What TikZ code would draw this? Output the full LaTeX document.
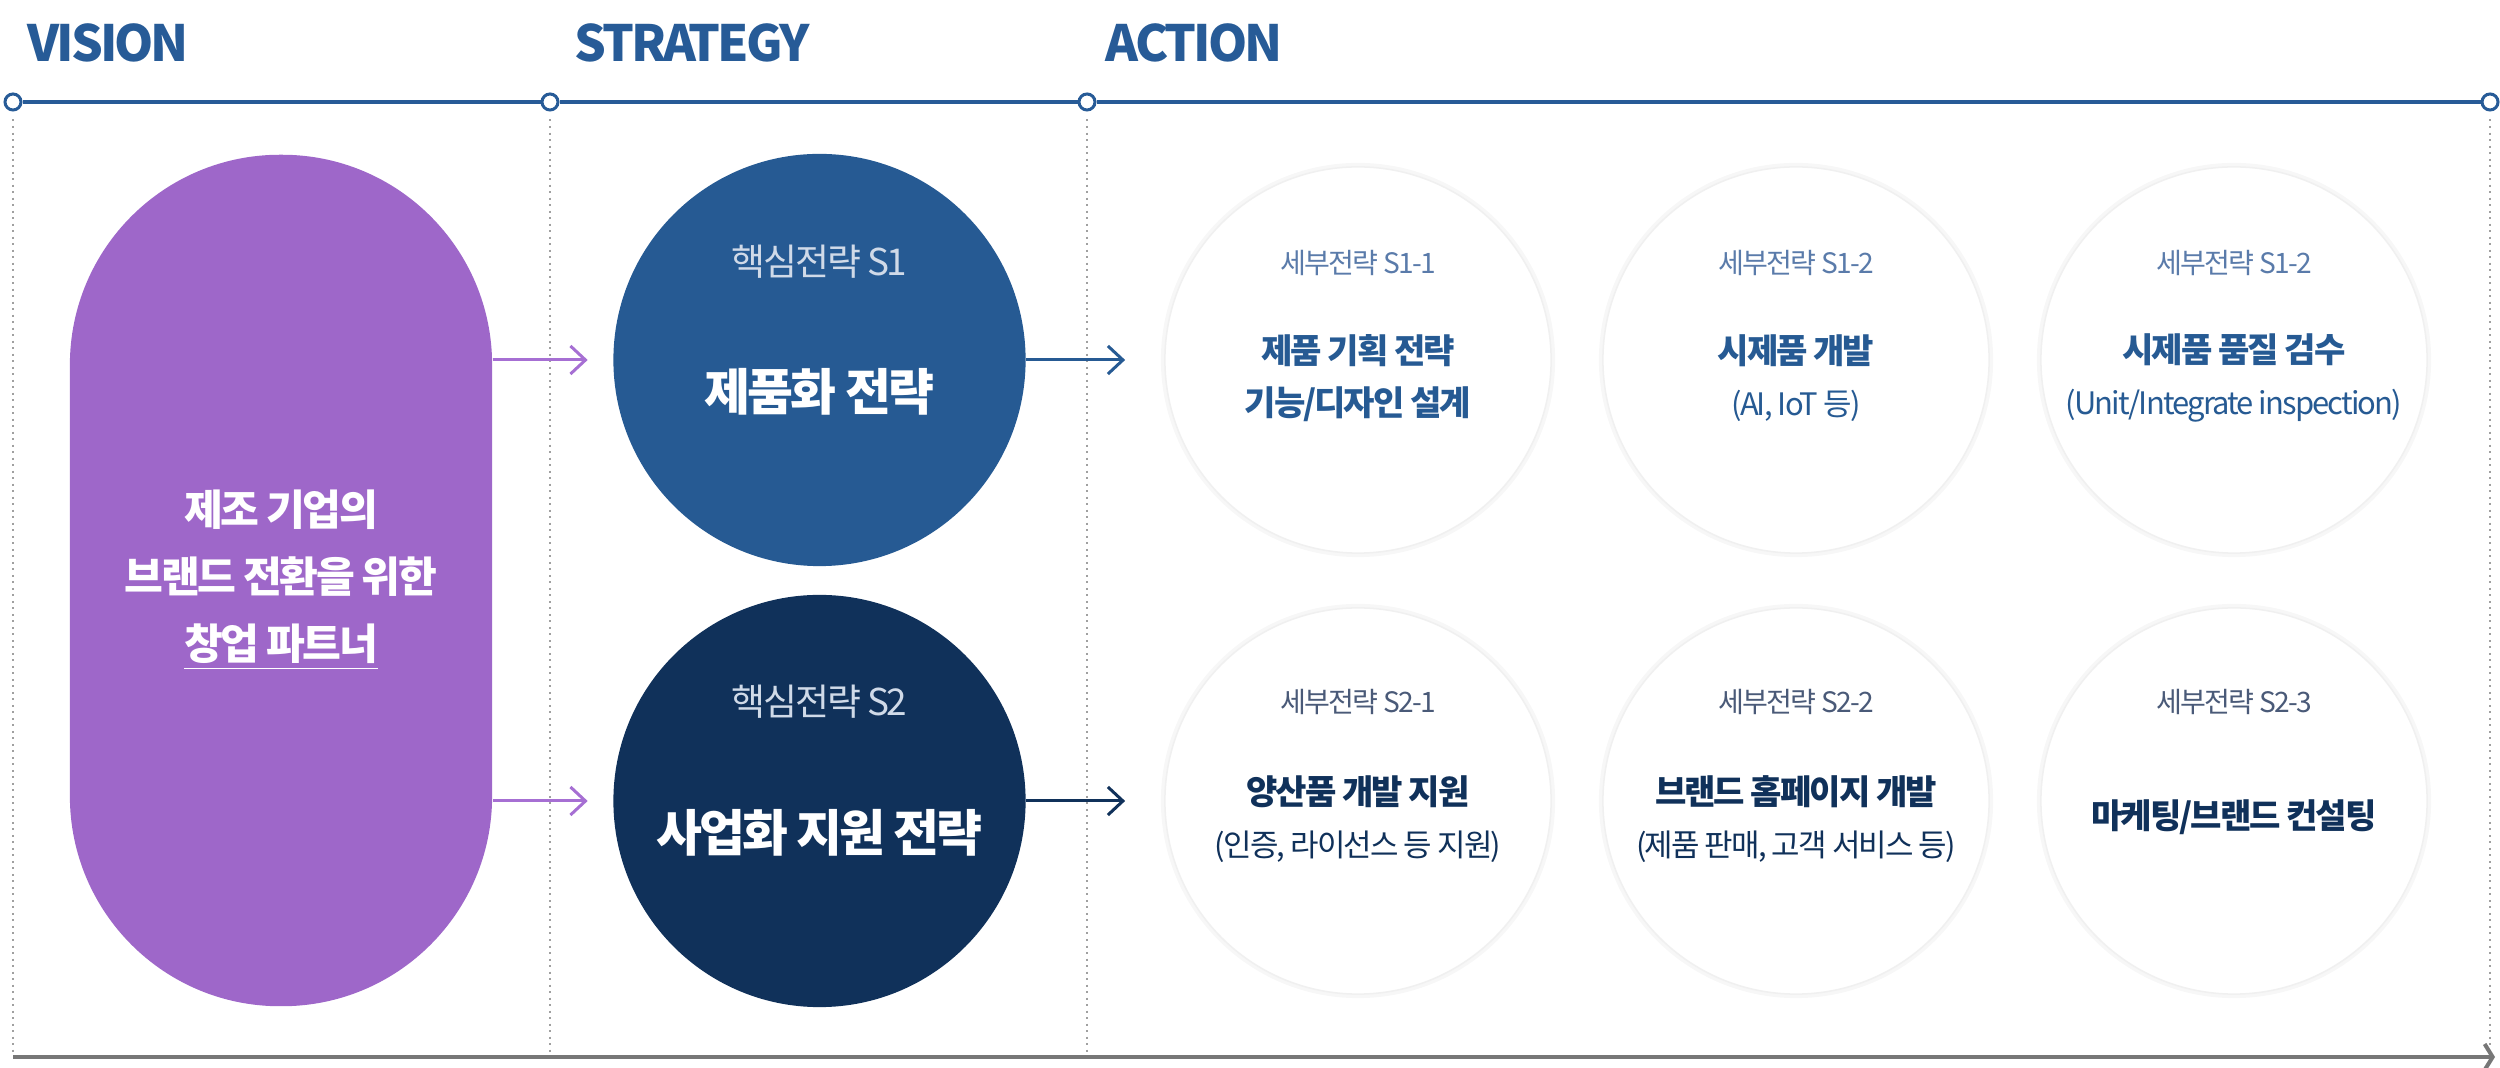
\documentclass[tikz,border=0pt]{standalone}
\usepackage{fontspec}
\setmainfont{Noto Sans CJK KR}
\newfontfamily\krtight[LetterSpace=-6]{Noto Sans CJK KR}
\usetikzlibrary{arrows.meta}
\definecolor{hdblue}{HTML}{275B97}
\definecolor{s1blue}{HTML}{265A93}
\definecolor{s2navy}{HTML}{10315A}
\definecolor{visp}{HTML}{9E67C9}
\definecolor{arp}{HTML}{A66FD3}
\definecolor{sub1}{HTML}{5A7BAA}
\definecolor{sub2}{HTML}{4A5A78}
\definecolor{csubc}{HTML}{D0DAE8}
\definecolor{guidec}{HTML}{A0A0A0}
\definecolor{barc}{HTML}{777777}
\newcommand\apar{\krtight\mdseries\fontsize{8.8pt}{14.6pt}\selectfont}
\tikzset{% This is the style settings for nodes
    hd/.style={anchor=base west, inner sep=0pt, text=hdblue, font=\krtight\bfseries\fontsize{14.2pt}{16pt}\selectfont},
    tick/.style={circle, draw=hdblue, fill=white, line width=0.03cm, minimum size=0.16cm, inner sep=0pt},
    tl/.style={draw=hdblue, line width=0.04cm},
    guide/.style={draw=guidec, line width=0.02cm, dash pattern=on 0.02cm off 0.045cm},
    bar/.style={draw=barc, line width=0.04cm, -{Straight Barb[length=0.08cm, width=0.26cm]}},
    vis/.style={rectangle, rounded corners=2.1cm, minimum width=4.22cm, minimum height=8.51cm, fill=visp, text=white, align=center, font=\krtight\bfseries\fontsize{12pt}{19pt}\selectfont},
    core/.style={circle, minimum size=4.12cm, inner sep=0pt},
    csub/.style={text=csubc, inner sep=0pt, font=\krtight\fontsize{10.5pt}{12pt}\selectfont},
    cmain/.style={text=white, inner sep=0pt, font=\krtight\bfseries\fontsize{14.2pt}{16pt}\selectfont},
    act/.style={circle, fill=white, draw=black!6, line width=0.015cm, minimum size=3.86cm, inner sep=0pt, preaction={draw=black!3, line width=0.08cm}},
    asub/.style={inner sep=0pt, font=\krtight\fontsize{8pt}{10pt}\selectfont},
    amain/.style={inner sep=0pt, align=center, font=\krtight\bfseries\fontsize{9.7pt}{14.6pt}\selectfont},
    e/.style={-{Straight Barb[length=0.15cm, width=0.28cm]}, line width=0.03cm}}

\begin{document}
\begin{tikzpicture}[x=0.01cm, y=-0.01cm]
    \useasboundingbox (0,0) rectangle (2500,1068);

    \node[hd] (hv) at (27,62) {VISION};
    \node[hd] (hs) at (574,62) {STRATEGY};
    \node[hd] (ha) at (1105,62) {ACTION};

    \node[tick] (t1) at (13,102) {};
    \node[tick] (t2) at (550,102) {};
    \node[tick] (t3) at (1087,102) {};
    \node[tick] (t4) at (2490,102) {};
    \coordinate (b0) at (13,1057);
    \coordinate (b1) at (2495,1057);

    \foreach \t in {t1,t2,t3,t4}
        \draw[guide] ([yshift=-0.08cm]\t.south) -- ([yshift=0.05cm]\t |- b0);
    \draw[tl] (t1) -- (t2) -- (t3) -- (t4);
    \draw[bar] (b0) -- (b1);

    \node[vis] (vis) at (281,580.5) {제조 기업의\\브랜드 전환을 위한\\\underline{창업 파트너}};

    \node[core, fill=s1blue] (s1) at (819.5,360) {};
    \node[csub] (s1s) at ([yshift=0.98cm]s1.center) {핵심전략 S1};
    \node[cmain] (s1t) at ([yshift=-0.32cm]s1.center) {제품화 전략};
    \node[core, fill=s2navy] (s2) at (819.5,801) {};
    \node[csub] (s2s) at ([yshift=0.99cm]s2.center) {핵심전략 S2};
    \node[cmain] (s2t) at ([yshift=-0.32cm]s2.center) {사업화 지원 전략};

    \node[act] (a11) at (1358,360) {};
    \node[act] (a12) at (1796,360) {};
    \node[act] (a13) at (2234,360) {};
    \node[act] (a21) at (1358,801) {};
    \node[act] (a22) at (1796,801) {};
    \node[act] (a23) at (2234,801) {};

    \node[asub, text=sub1] (a11s) at ([yshift=0.97cm]a11.center) {세부전략 S1-1};
    \node[asub, text=sub1] (a12s) at ([yshift=0.97cm]a12.center) {세부전략 S1-2};
    \node[asub, text=sub1] (a13s) at ([yshift=0.97cm]a13.center) {세부전략 S1-2};
    \node[amain, text=s1blue] (a11t) at ([yshift=-0.18cm]a11.center) {제품 기획 전략\\기능/디자인 설계};
    \node[amain, text=s1blue] (a12t) at ([yshift=-0.18cm]a12.center) {시제품 개발\\{\apar (AI, IoT 등)}};
    \node[amain, text=s1blue] (a13t) at ([yshift=-0.18cm]a13.center) {시제품 품질 검수\\{\apar (Unit/Integrate inspection)}};

    \node[asub, text=sub2] (a21s) at ([yshift=0.99cm]a21.center) {세부전략 S2-1};
    \node[asub, text=sub2] (a22s) at ([yshift=0.99cm]a22.center) {세부전략 S2-2};
    \node[asub, text=sub2] (a23s) at ([yshift=0.99cm]a23.center) {세부전략 S2-3};
    \node[amain, text=s2navy] (a21t) at ([yshift=-0.18cm]a21.center) {양산품 개발 지원\\{\apar (인증, 라이선스 등 지원)}};
    \node[amain, text=s2navy] (a22t) at ([yshift=-0.18cm]a22.center) {브랜드 홈페이지 개발\\{\apar (제품 판매, 고객 서비스 등)}};
    \node[amain, text=s2navy] (a23t) at ([yshift=-0.16cm]a23.center) {마케팅/브랜드 컨설팅};

    \draw[e, arp, shorten >=0.25cm] (vis.east |- s1) -- (s1);
    \draw[e, arp, shorten >=0.25cm] (vis.east |- s2) -- (s2);
    \draw[e, s1blue, shorten >=0.39cm] (s1) -- (a11);
    \draw[e, s2navy, shorten >=0.39cm] (s2) -- (a21);
\end{tikzpicture}
\end{document}
